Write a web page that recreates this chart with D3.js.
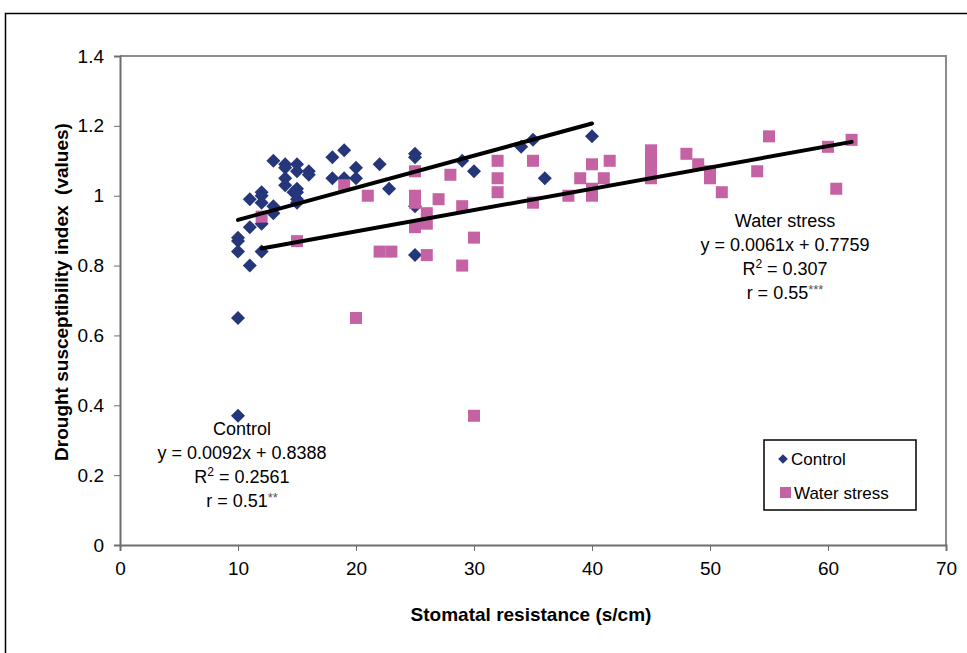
<!DOCTYPE html>
<html>
<head>
<meta charset="utf-8">
<script src="https://cdn.jsdelivr.net/npm/d3@7"></script>
<style>
  body { margin: 0; background: #fff; }
  svg { display: block; font-family: "Liberation Sans", Arial, sans-serif; }
</style>
</head>
<body>
<div id="chart"></div>
<script>
        // Control series (stomatal resistance, drought susceptibility index)
        const controlX = [10, 10, 10, 10, 10, 11, 11, 11, 12, 12, 12, 12, 12, 13, 13, 13, 14, 14, 14, 14, 14.7,
            15, 15, 15, 15, 15, 15, 16, 16, 18, 18, 19, 19, 20, 20, 22, 22.8, 25, 25, 25, 25, 29, 30, 34, 35, 36, 40];
        const controlY = [0.37, 0.65, 0.84, 0.87, 0.88, 0.80, 0.91, 0.99, 0.84, 0.92, 0.98, 1.00, 1.01, 0.95, 0.97, 1.10,
            1.03, 1.05, 1.08, 1.09, 1.01, 0.98, 0.99, 1.01, 1.02, 1.07, 1.09, 1.06, 1.07, 1.05, 1.11, 1.05, 1.13,
            1.05, 1.08, 1.09, 1.02, 0.83, 0.97, 1.11, 1.12, 1.10, 1.07, 1.14, 1.16, 1.05, 1.17];

        // Water stress series
        const stressX = [12, 15, 19, 20, 21, 22, 23, 25, 25, 25, 25, 26, 26, 26, 27, 28, 29, 29, 30, 30, 32, 32, 32,
            35, 35, 38, 39, 40, 40, 40, 41, 41.5, 45, 45, 45, 45, 45, 48, 49, 50, 50, 51, 54, 55, 60, 60.7, 62];
        const stressY = [0.94, 0.87, 1.03, 0.65, 1.00, 0.84, 0.84, 0.91, 0.98, 1.00, 1.07, 0.83, 0.92, 0.95, 0.99, 1.06,
            0.80, 0.97, 0.37, 0.88, 1.01, 1.05, 1.10, 0.98, 1.10, 1.00, 1.05, 1.00, 1.02, 1.09, 1.05, 1.10,
            1.05, 1.07, 1.09, 1.11, 1.13, 1.12, 1.09, 1.05, 1.07, 1.01, 1.07, 1.17, 1.14, 1.02, 1.16];

        // linear trendlines as printed on the chart
        const controlFit = { slope: 0.0092, intercept: 0.8388, from: 10, to: 40 };
        const stressFit = { slope: 0.0061, intercept: 0.7759, from: 12, to: 62 };

        const controlLabel = ["Control", "y = 0.0092x + 0.8388", "R2 = 0.2561", "r = 0.51**"];
        const stressLabel = ["Water stress", "y = 0.0061x + 0.7759", "R2 = 0.307", "r = 0.55***"];

        const xTicks = [0, 10, 20, 30, 40, 50, 60, 70];
        const yTicks = [0, 0.2, 0.4, 0.6, 0.8, 1, 1.2, 1.4];

        const W = 967, H = 653;
        const plot = { left: 120, right: 946, top: 56, bottom: 545 };
        const navy = "#26367A", pink = "#C462A4";

        const svg = d3.select("#chart").append("svg")
            .attr("width", W)
            .attr("height", H);

        // outer frame (only left and top edges are visible)
        svg.append("path")
            .attr("d", `M5.5,${H} V13.5 H${W}`)
            .attr("fill", "none")
            .attr("stroke", "#000")
            .attr("stroke-width", 1.5);

        const x = d3.scaleLinear().domain([0, 70]).range([plot.left, plot.right]);
        const y = d3.scaleLinear().domain([0, 1.4]).range([plot.bottom, plot.top]);

        // plot area border
        svg.append("path")
            .attr("d", `M${plot.left},${plot.top} H${plot.right} V${plot.bottom}`)
            .attr("fill", "none")
            .attr("stroke", "#8c8c8c")
            .attr("stroke-width", 2);

        const xAxis = svg.append("g")
            .attr("transform", `translate(0,${plot.bottom})`)
            .call(d3.axisBottom(x).tickValues(xTicks).tickSize(6).tickPadding(11).tickFormat(d3.format("d")));
        const yAxis = svg.append("g")
            .attr("transform", `translate(${plot.left},0)`)
            .call(d3.axisLeft(y).tickValues(yTicks).tickSize(6).tickPadding(10).tickFormat(d => d));

        [xAxis, yAxis].forEach(g => {
            g.select(".domain").attr("stroke", "#6e6e6e").attr("stroke-width", 2);
            g.selectAll(".tick line").attr("stroke", "#6e6e6e");
            g.selectAll(".tick text")
                .attr("fill", "#000")
                .style("font-size", "19px")
                .style("font-family", "Liberation Sans, Arial, sans-serif");
        });

        // axis titles
        svg.append("text")
            .attr("x", 531)
            .attr("y", 621)
            .attr("text-anchor", "middle")
            .style("font-size", "19px")
            .style("font-weight", "bold")
            .text("Stomatal resistance (s/cm)");

        svg.append("text")
            .attr("transform", "translate(68,292) rotate(-90)")
            .attr("text-anchor", "middle")
            .style("font-size", "19px")
            .style("font-weight", "bold")
            .style("white-space", "pre")
            .attr("xml:space", "preserve")
            .text("Drought susceptibility index  (values)");

        // markers
        const diamond = d3.symbol().type(d3.symbolDiamond2).size(125);

        svg.append("g").selectAll("path")
            .data(controlX.map((d, i) => [d, controlY[i]]))
            .enter().append("path")
            .attr("d", diamond)
            .attr("transform", d => `translate(${x(d[0])},${y(d[1])})`)
            .attr("fill", navy);

        const sq = 12;
        svg.append("g").selectAll("rect")
            .data(stressX.map((d, i) => [d, stressY[i]]))
            .enter().append("rect")
            .attr("x", d => x(d[0]) - sq / 2)
            .attr("y", d => y(d[1]) - sq / 2)
            .attr("width", sq)
            .attr("height", sq)
            .attr("fill", pink);

        // trendlines
        [controlFit, stressFit].forEach(f => {
            svg.append("line")
                .attr("x1", x(f.from))
                .attr("y1", y(f.slope * f.from + f.intercept))
                .attr("x2", x(f.to))
                .attr("y2", y(f.slope * f.to + f.intercept))
                .attr("stroke", "#000")
                .attr("stroke-width", 4)
                .attr("stroke-linecap", "round");
        });

        // equation labels
        const drawLabel = (lines, cx, top) => {
            lines.forEach((line, i) => {
                const t = svg.append("text")
                    .attr("x", cx)
                    .attr("y", top + i * 24)
                    .attr("text-anchor", "middle")
                    .style("font-size", "18px");
                if (line.startsWith("R2")) {
                    t.append("tspan").text("R");
                    t.append("tspan").attr("dy", -7).style("font-size", "12px").text("2");
                    t.append("tspan").attr("dy", 7).text(line.slice(2));
                } else if (line.includes("*")) {
                    const k = line.indexOf("*");
                    t.append("tspan").text(line.slice(0, k));
                    t.append("tspan").attr("dy", -5).style("font-size", "13px").attr("fill", "#555").text(line.slice(k));
                } else {
                    t.text(line);
                }
            });
        };
        drawLabel(stressLabel, 785, 227);
        drawLabel(controlLabel, 242, 435);

        // legend
        const legend = svg.append("g").attr("transform", "translate(764,440)");
        legend.append("rect")
            .attr("width", 152)
            .attr("height", 70)
            .attr("fill", "#fff")
            .attr("stroke", "#000")
            .attr("stroke-width", 1.5);
        legend.append("path")
            .attr("d", d3.symbol().type(d3.symbolDiamond2).size(60))
            .attr("transform", "translate(19,19)")
            .attr("fill", navy);
        legend.append("text")
            .attr("x", 27).attr("y", 25)
            .style("font-size", "17px")
            .text("Control");
        legend.append("rect")
            .attr("x", 16).attr("y", 47)
            .attr("width", 11).attr("height", 11)
            .attr("fill", pink);
        legend.append("text")
            .attr("x", 30).attr("y", 59)
            .style("font-size", "17px")
            .text("Water stress");
</script>
</body>
</html>
